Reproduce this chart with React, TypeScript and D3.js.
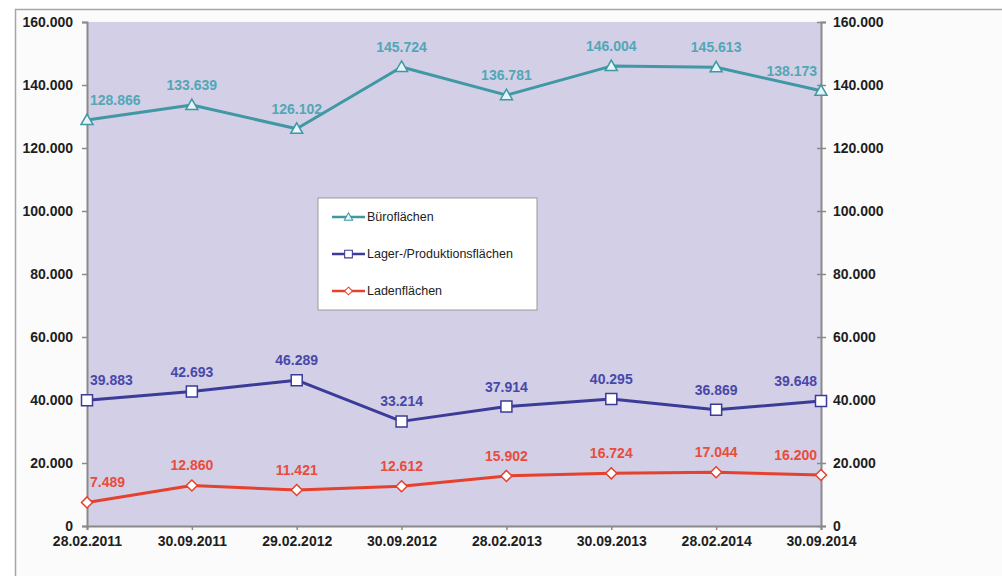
import React, { useEffect, useRef } from 'react';
import * as d3 from 'd3';

// Stichtage und Flächen (m²)
const dates = ['28.02.2011', '30.09.2011', '29.02.2012', '30.09.2012', '28.02.2013', '30.09.2013', '28.02.2014', '30.09.2014'];
const bueroflaechen = [128866, 133639, 126102, 145724, 136781, 146004, 145613, 138173];
const lagerflaechen = [39883, 42693, 46289, 33214, 37914, 40295, 36869, 39648];
const ladenflaechen = [7489, 12860, 11421, 12612, 15902, 16724, 17044, 16200];
const yTicks = [0, 20000, 40000, 60000, 80000, 100000, 120000, 140000, 160000];

const seriesList = [
  { name: 'Büroflächen', values: bueroflaechen, line: '#3f98a4', text: '#52a7b6', marker: 'triangle' },
  { name: 'Lager-/Produktionsflächen', values: lagerflaechen, line: '#3b3b98', text: '#4848aa', marker: 'square' },
  { name: 'Ladenflächen', values: ladenflaechen, line: '#e6412c', text: '#e84c3c', marker: 'diamond' },
];

const de = d3.formatLocale({ decimal: ',', thousands: '.', grouping: [3], currency: ['', ' €'] });
const fmt = de.format(',d');

export default function App() {
  const svgRef = useRef<SVGSVGElement>(null);

  useEffect(() => {
    const width = 1002;
    const height = 576;
    const m = { left: 87, right: 821, top: 22, bottom: 526 };

    const svg = d3.select(svgRef.current);
    svg.selectAll('*').remove();
    svg.attr('width', width).attr('height', height);

    // äußerer Rahmen
    svg.append('rect').attr('x', 0).attr('y', 0).attr('width', width).attr('height', height).attr('fill', '#ffffff');
    svg.append('rect').attr('x', 15.5).attr('y', 9.5).attr('width', width).attr('height', height)
      .attr('fill', '#fbfbfb').attr('stroke', '#a6a6a6').attr('stroke-width', 1.5);

    const x = d3.scalePoint().domain(dates).range([m.left, m.right]);
    const y = d3.scaleLinear().domain([0, 160000]).range([m.bottom, m.top]);

    svg.append('rect')
      .attr('x', m.left).attr('y', m.top)
      .attr('width', m.right - m.left).attr('height', m.bottom - m.top)
      .attr('fill', '#d3cfe6');

    const axisColor = '#8a8a8a';
    const font = 'Liberation Sans, Arial, sans-serif';

    const yLeft = svg.append('g').attr('transform', `translate(${m.left},0)`)
      .call(d3.axisLeft(y).tickValues(yTicks).tickFormat(d => fmt(+d)).tickSizeOuter(0).tickSize(5).tickPadding(9));
    const yRight = svg.append('g').attr('transform', `translate(${m.right},0)`)
      .call(d3.axisRight(y).tickValues(yTicks).tickFormat(d => fmt(+d)).tickSizeOuter(0).tickSize(5).tickPadding(7));
    const xAxis = svg.append('g').attr('transform', `translate(0,${m.bottom})`)
      .call(d3.axisBottom(x).tickSizeOuter(0).tickSize(4).tickPadding(6));
    yRight.selectAll('.tick line').attr('x1', -4);

    [yLeft, yRight, xAxis].forEach(g => {
      g.select('.domain').attr('stroke', axisColor).attr('stroke-width', 2);
      g.selectAll('.tick line').attr('stroke', axisColor).attr('stroke-width', 1.5);
      g.selectAll('text').attr('fill', '#1e1e1e').style('font-family', font)
        .style('font-size', '14px').style('font-weight', 'bold');
    });

    const line = d3.line<number>().x((_, i) => x(dates[i])!).y(d => y(d));

    const markerPath = (type: string) => {
      if (type === 'triangle') return 'M0,-6L6,4.5L-6,4.5Z';
      if (type === 'square') return 'M-5.5,-5.5H5.5V5.5H-5.5Z';
      return 'M0,-5.5L5.5,0L0,5.5L-5.5,0Z';
    };

    seriesList.forEach(s => {
      svg.append('path').datum(s.values)
        .attr('d', line).attr('fill', 'none')
        .attr('stroke', s.line).attr('stroke-width', 3).attr('stroke-linejoin', 'round');

      svg.selectAll(null).data(s.values).enter().append('path')
        .attr('transform', (d, i) => `translate(${x(dates[i])},${y(d)})`)
        .attr('d', markerPath(s.marker))
        .attr('fill', s.marker === 'triangle' ? '#e6f4f6' : '#ffffff')
        .attr('stroke', s.line).attr('stroke-width', 1.5);

      svg.selectAll(null).data(s.values).enter().append('text')
        .attr('x', (d, i) => {
          const px = x(dates[i])!;
          if (i === 0) return px + 3;
          if (i === dates.length - 1) return px - 4;
          return px;
        })
        .attr('y', d => y(d) - 15)
        .attr('text-anchor', (d, i) => i === 0 ? 'start' : i === dates.length - 1 ? 'end' : 'middle')
        .attr('fill', s.text)
        .style('font-family', font).style('font-size', '14px').style('font-weight', 'bold')
        .text(d => fmt(d));
    });

    // Legende
    const lg = svg.append('g').attr('transform', 'translate(318,198)');
    lg.append('rect').attr('width', 219).attr('height', 112)
      .attr('fill', '#ffffff').attr('stroke', '#9a9a9a').attr('stroke-width', 1);
    seriesList.forEach((s, i) => {
      const ly = 19 + i * 37;
      lg.append('line').attr('x1', 14).attr('x2', 47).attr('y1', ly).attr('y2', ly)
        .attr('stroke', s.line).attr('stroke-width', 2.5);
      lg.append('path').attr('transform', `translate(30.5,${ly}) scale(0.7)`)
        .attr('d', markerPath(s.marker))
        .attr('fill', s.marker === 'triangle' ? '#e6f4f6' : '#ffffff')
        .attr('stroke', s.line).attr('stroke-width', 1.5);
      lg.append('text').attr('x', 49).attr('y', ly + 4)
        .attr('fill', '#222').style('font-family', font).style('font-size', '12.5px')
        .text(s.name);
    });
  }, []);

  return (
    <div style={{ position: 'absolute', left: 0, top: 0 }}>
      <svg ref={svgRef} style={{ display: 'block' }}></svg>
    </div>
  );
}
